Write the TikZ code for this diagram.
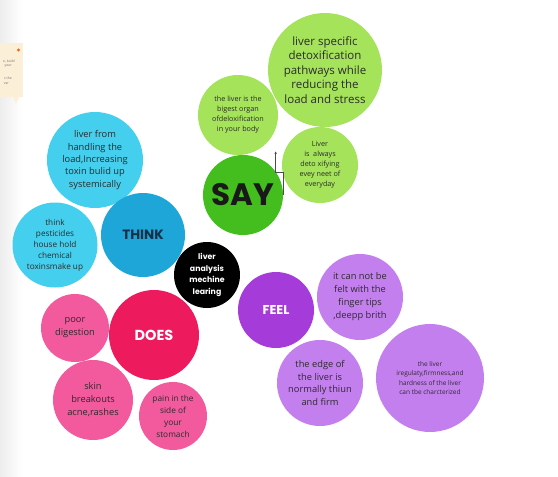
\documentclass[tikz,border=0pt]{standalone}
\usepackage{fontspec}
\setmainfont{Open Sans}
\newfontfamily\titlefont{Poppins}
\usetikzlibrary{arrows.meta}
\definecolor{sayDark}{HTML}{44BE1E}
\definecolor{sayLight}{HTML}{A5E35B}
\definecolor{thinkDark}{HTML}{1DA6D7}
\definecolor{thinkLight}{HTML}{45CFEE}
\definecolor{doesDark}{HTML}{EE1A5E}
\definecolor{doesLight}{HTML}{F35A9E}
\definecolor{feelDark}{HTML}{A53BD8}
\definecolor{feelLight}{HTML}{C47FEF}
\definecolor{txt}{HTML}{2B2B2B}
\definecolor{navy}{HTML}{12304A}
\definecolor{note}{HTML}{FBEFD8}
\newcommand\fsz[2]{\fontsize{#1}{#2}\selectfont}
\tikzset{
  bub/.style={circle, inner sep=0pt, align=center, text=txt},
  ttl/.style={circle, inner sep=0pt, align=center, font=\titlefont\bfseries},
  conn/.style={draw=black!70, line width=0.6pt, -{Stealth[length=2.5pt,width=2.5pt]}},
  tiny/.style={anchor=east, font=\fsz{3.4}{4}, text=black!55, inner sep=0pt},
}
\begin{document}
\begin{tikzpicture}[x=1pt,y=-1pt]
\useasboundingbox (0,0) rectangle (558,477);
\fill[white] (0,0) rectangle (558,477);
\shade[left color=black!7, right color=white] (0,0) rectangle (22,477);
% sticky note fragment
\fill[note] (0,43) rectangle (23,97);
\fill[note] (13,97) -- (19,97) -- (16,103) -- cycle;
\fill[orange!80!red] (18.5,50) circle (1.6pt);
\node[tiny] (n1) at (15,61) {e, build};
\node[tiny] (n2) at (12,66) {your};
\node[tiny] (n3) at (12,78) {s the};
\node[tiny] (n4) at (9,84) {ver};

% SAY group
\node[bub, fill=sayLight, minimum size=114pt, font=\fsz{11.5}{14.5}] (s1) at (325,70)
  {liver specific\\detoxification\\pathways while\\reducing the\\load and stress};
\node[bub, fill=sayLight, minimum size=80pt, font=\fsz{7.2}{10}] (s2) at (238,115)
  {the liver is the\\bigest organ\\ofdeloxification\\in your body};
\node[bub, fill=sayLight, minimum size=76pt, font=\fsz{7.2}{10}] (s3) at (320,165)
  {Liver\\is\ \ always\\deto xifying\\evey neet of\\everyday};
\node[ttl, fill=sayDark, minimum size=80pt, text=black!90, font=\titlefont\bfseries\fsz{31}{32}] (say) at (243,195) {SAY};
\coordinate (tip) at (275.7,151.5);
\draw[conn] (say.east) -- ++(0,-22.7) -| (tip);

% THINK group
\node[bub, fill=thinkLight, minimum size=96pt, font=\fsz{9.3}{12.3}] (t1) at (95,160)
  {liver from\\handling the\\load,Increasing\\toxin bulid up\\systemically};
\node[bub, fill=thinkLight, minimum size=85pt, font=\fsz{8.2}{11}] (t2) at (55,245)
  {think\\pesticides\\house hold\\chemical\\toxinsmake up};
\node[ttl, fill=thinkDark, minimum size=84pt, text=navy, font=\titlefont\bfseries\fsz{13.5}{15}] (think) at (143,235) {THINK};

% center
\node[ttl, fill=black, minimum size=66pt, text=white, font=\titlefont\bfseries\fsz{7.8}{11.5}] (core) at (207,275)
  {liver\\analysis\\mechine\\learing};

% DOES group
\node[bub, fill=doesLight, minimum size=68pt, font=\fsz{9.3}{13}] (d1) at (75,328) {poor\\digestion};
\node[bub, fill=doesLight, minimum size=80pt, font=\fsz{9.3}{13}] (d2) at (93,400) {skin\\breakouts\\acne,rashes};
\node[bub, fill=doesLight, minimum size=68pt, font=\fsz{8.3}{12}] (d3) at (173,416) {pain in the\\side of\\your\\stomach};
\node[ttl, fill=doesDark, minimum size=90pt, text=white, font=\titlefont\bfseries\fsz{14.5}{16}] (does) at (154,335) {DOES};

% FEEL group
\node[ttl, fill=feelDark, minimum size=76pt, text=white, font=\titlefont\bfseries\fsz{12.8}{14}] (feel) at (276,310) {FEEL};
\node[bub, fill=feelLight, minimum size=86pt, font=\fsz{9.3}{13}] (f1) at (360,297)
  {it can not be\\felt with the\\finger tips\\,deepp brith};
\node[bub, fill=feelLight, minimum size=86pt, font=\fsz{9.3}{12.5}] (f2) at (320,383)
  {the edge of\\the liver is\\normally thiun\\and firm};
\node[bub, fill=feelLight, minimum size=108pt, font=\fsz{6.5}{9.5}] (f3) at (430,378)
  {the liver\\iregulaty,firmness,and\\hardness of the liver\\can tbe charcterized};
\end{tikzpicture}
\end{document}
